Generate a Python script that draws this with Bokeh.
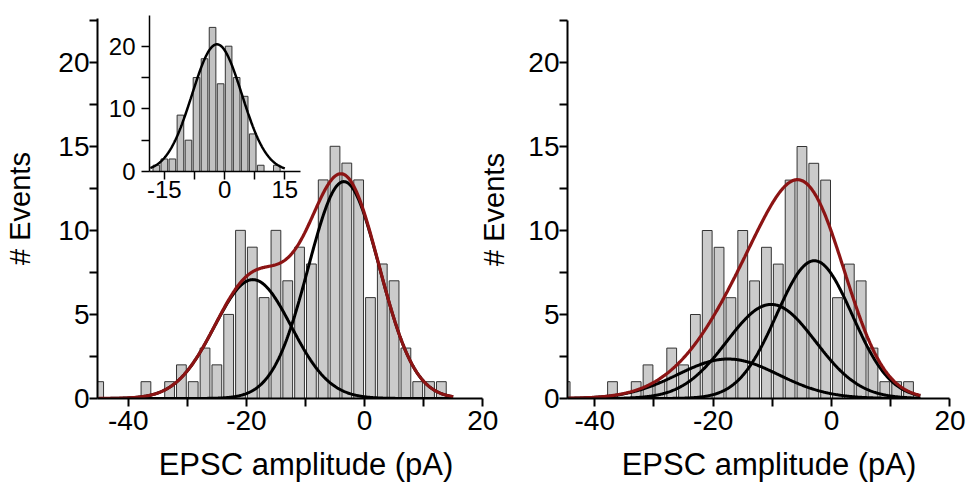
import numpy as np
from bokeh.plotting import figure
from bokeh.layouts import row, column
from bokeh.models import Range1d, FixedTicker
from bokeh.embed import file_html
from bokeh.resources import INLINE

# ---------------- data ----------------
bin_centers = [-45, -43, -41, -39, -37, -35, -33, -31, -29, -27, -25, -23, -21, -19, -17,
               -15, -13, -11, -9, -7, -5, -3, -1, 1, 3, 5, 7, 9, 11, 13]
counts = [1, 0, 0, 0, 1, 0, 1, 2, 1, 3, 2, 5, 10, 9, 6,
          10, 7, 9, 8, 13, 15, 14, 13, 6, 8, 7, 3, 1, 1, 1]

inset_centers = [-17, -15, -13, -11, -9, -7, -5, -3, -1, 1, 3, 5, 7, 9, 11, 13]
inset_counts = [1, 2, 2, 9, 5, 15, 18, 23, 14, 20, 15, 12, 6, 1, 0, 1]

# Gaussian fit parameters (amplitude, mean, sd)
left_amp = [7.07, 12.9]
left_mu = [-18.9, -3.5]
left_sd = [6.5, 6.0]

right_amp = [8.2, 5.6, 2.35]
right_mu = [-2.9, -10.2, -17.5]
right_sd = [6.4, 7.5, 8.5]

inset_amp = [20.3]
inset_mu = [-1.9]
inset_sd = [6.2]

fit_range = [-45, 15]
inset_fit_range = [-18.5, 15]

x_ticks = [-40, -20, 0, 20]
x_tick_labels = ["-40", "-20", "0", "20"]
x_minor = [-30, -10, 10]
y_ticks = [0, 5, 10, 15, 20]
y_tick_labels = ["0", "5", "10", "15", "20"]
y_minor = [2.5, 7.5, 12.5, 17.5, 22.5]

inset_x_ticks = [-15, 0, 15]
inset_x_labels = ["-15", "0", "15"]
inset_x_minor = [-7.5, 7.5]
inset_y_ticks = [0, 10, 20]
inset_y_labels = ["0", "10", "20"]
inset_y_minor = [5, 15]

FONT = "Liberation Sans"
BAR_FILL = "#cbcbcb"
BAR_LINE = "#333333"
RED = "#8c1414"


def gauss(x, a, m, s):
    return a * np.exp(-(x - m) ** 2 / (2 * s ** 2))


def style(p, xt, xl, xm, yt, yl, ym, tick_size, tick_len, minor_len, line_w):
    p.xgrid.visible = False
    p.ygrid.visible = False
    p.outline_line_color = None
    p.xaxis.ticker = FixedTicker(ticks=xt, minor_ticks=xm)
    p.xaxis.major_label_overrides = dict(zip(xt, xl))
    p.yaxis.ticker = FixedTicker(ticks=yt, minor_ticks=ym)
    p.yaxis.major_label_overrides = dict(zip(yt, yl))
    for ax in (p.xaxis, p.yaxis):
        ax.axis_line_width = line_w
        ax.axis_line_color = "black"
        ax.major_tick_line_color = "black"
        ax.minor_tick_line_color = "black"
        ax.major_tick_line_width = line_w
        ax.minor_tick_line_width = line_w
        ax.major_tick_in = 0
        ax.minor_tick_in = 0
        ax.major_tick_out = tick_len
        ax.minor_tick_out = minor_len
        ax.major_label_text_font = FONT
        ax.major_label_text_font_size = tick_size
        ax.major_label_text_color = "black"
        ax.axis_label_text_font = FONT
        ax.axis_label_text_font_style = "normal"
        ax.axis_label_text_color = "black"
    p.yaxis.major_label_orientation = "horizontal"


def main_panel(amps, mus, sds, width, x0, x1, y1, min_left, min_right, min_top, ylab_standoff):
    p = figure(width=width, height=487, x_range=Range1d(x0, x1), y_range=Range1d(0, y1),
               output_backend="svg", toolbar_location=None,
               min_border_left=min_left, min_border_right=min_right,
               min_border_top=min_top, min_border_bottom=89,
               background_fill_alpha=0, border_fill_alpha=0)
    p.frame_align = False
    p.vbar(x=bin_centers, top=counts, width=1.65, bottom=0,
           fill_color=BAR_FILL, line_color=BAR_LINE, line_width=1)
    xs = np.linspace(fit_range[0], fit_range[1], 500)
    total = np.zeros_like(xs)
    for a, m, s in zip(amps, mus, sds):
        ys = gauss(xs, a, m, s)
        total += ys
        p.line(xs, ys, line_color="black", line_width=3)
    p.line(xs, total, line_color=RED, line_width=3.2)
    style(p, x_ticks, x_tick_labels, x_minor, y_ticks, y_tick_labels, y_minor,
          "28px", 8, 8, 2)
    p.xaxis.bounds = (x0, 20)
    p.xaxis.axis_label = "EPSC amplitude (pA)"
    p.yaxis.axis_label = "# Events"
    p.xaxis.axis_label_text_font_size = "31px"
    p.yaxis.axis_label_text_font_size = "29px"
    p.xaxis.major_label_standoff = 4
    p.yaxis.major_label_standoff = 0
    p.xaxis.axis_label_standoff = 14
    p.yaxis.axis_label_standoff = ylab_standoff
    return p


# left panel: frame 97..514 px, axis line ends at 20
p1 = main_panel(left_amp, left_mu, left_sd, 530, -45.2, 25.38, 22.6, 97, 16, 18, 19)
# right panel: frame 566..970 px
p2 = main_panel(right_amp, right_mu, right_sd, 495, -44.6, 23.47, 22.5, 91, 0, 20, 15)

# inset
pi = figure(width=210, height=210, x_range=Range1d(-18.7, 18.9), y_range=Range1d(0, 24.9),
            output_backend="svg", toolbar_location=None,
            min_border_left=49, min_border_right=10, min_border_top=15, min_border_bottom=39,
            background_fill_alpha=0, border_fill_alpha=0)
pi.frame_align = False
pi.vbar(x=inset_centers, top=inset_counts, width=1.65, bottom=0,
        fill_color="#c2c2c2", line_color=BAR_LINE, line_width=1)
xi = np.linspace(inset_fit_range[0], inset_fit_range[1], 300)
pi.line(xi, gauss(xi, inset_amp[0], inset_mu[0], inset_sd[0]), line_color="black", line_width=2.5)
style(pi, inset_x_ticks, inset_x_labels, inset_x_minor, inset_y_ticks, inset_y_labels, inset_y_minor,
      "24px", 8, 8, 1.5)
pi.xaxis.major_label_standoff = 1
pi.yaxis.major_label_standoff = 6

pi.margin = (0, 0, 0, 100)
p1.margin = (-210, 0, 0, 0)
p2.margin = (0, 0, 0, -55)

layout = row(column(pi, p1), p2)

open("out.html", "w").write(file_html(layout, INLINE))
